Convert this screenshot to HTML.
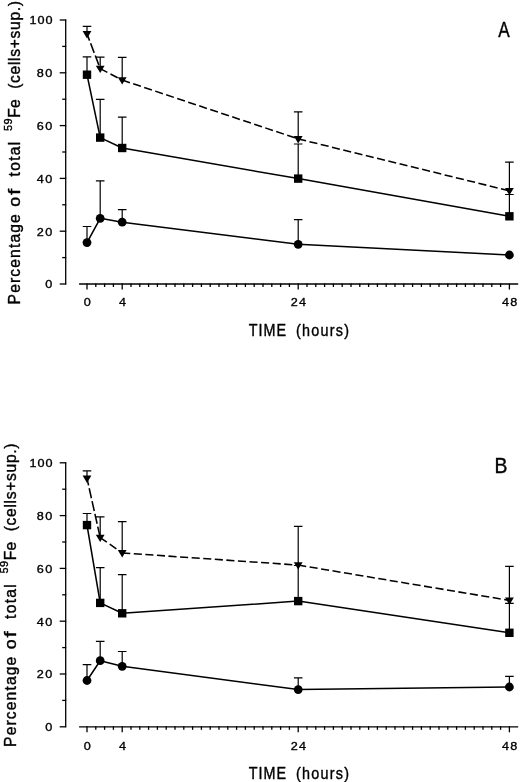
<!DOCTYPE html>
<html><head><meta charset="utf-8"><title>Fe-59 time course</title>
<style>
html,body{margin:0;padding:0;background:#fff}
svg{display:block;filter:grayscale(1)}
text{font-family:"Liberation Sans",sans-serif;fill:#000;stroke:#000;stroke-width:0.4px;stroke-linejoin:round}
.ax{stroke:#000;stroke-width:1.3;fill:none}
.eb{stroke:#000;stroke-width:1.2;fill:none}
.ln{stroke:#000;stroke-width:1.55;fill:none;stroke-linejoin:round}
.mk{fill:#000;stroke:none}
.tk{font-size:11.7px;letter-spacing:1.25px;stroke-width:0.34px}
.pl{font-size:21.5px;stroke-width:0.4px}
</style></head>
<body>
<svg width="520" height="782" viewBox="0 0 520 782">
<rect width="520" height="782" fill="#fff"/>
<path d="M65.7 19.50V284.50" class="ax"/>
<path d="M79.08 284.00H518.20" class="ax"/>
<path d="M59.7 284.00H66.2" class="ax"/>
<path d="M62.2 257.60H66.2" class="ax"/>
<path d="M59.7 231.20H66.2" class="ax"/>
<path d="M62.2 204.80H66.2" class="ax"/>
<path d="M59.7 178.40H66.2" class="ax"/>
<path d="M62.2 152.00H66.2" class="ax"/>
<path d="M59.7 125.60H66.2" class="ax"/>
<path d="M62.2 99.20H66.2" class="ax"/>
<path d="M59.7 72.80H66.2" class="ax"/>
<path d="M62.2 46.40H66.2" class="ax"/>
<path d="M59.7 20.00H66.2" class="ax"/>
<text transform="translate(53.5 288.40) scale(1.08 1)" class="tk" text-anchor="end">0</text>
<text transform="translate(53.5 235.60) scale(1.08 1)" class="tk" text-anchor="end">20</text>
<text transform="translate(53.5 182.80) scale(1.08 1)" class="tk" text-anchor="end">40</text>
<text transform="translate(53.5 130.00) scale(1.08 1)" class="tk" text-anchor="end">60</text>
<text transform="translate(53.5 77.20) scale(1.08 1)" class="tk" text-anchor="end">80</text>
<text transform="translate(53.4 24.40) scale(1.08 1)" class="tk" text-anchor="end" style="letter-spacing:0.9px">100</text>
<path d="M87.00 283.50v6.0" class="ax"/>
<path d="M95.80 283.50v3.5" class="ax"/>
<path d="M104.60 283.50v3.5" class="ax"/>
<path d="M113.40 283.50v3.5" class="ax"/>
<path d="M122.20 283.50v6.0" class="ax"/>
<path d="M131.00 283.50v3.5" class="ax"/>
<path d="M139.80 283.50v3.5" class="ax"/>
<path d="M148.60 283.50v3.5" class="ax"/>
<path d="M157.40 283.50v3.5" class="ax"/>
<path d="M166.20 283.50v3.5" class="ax"/>
<path d="M175.00 283.50v3.5" class="ax"/>
<path d="M183.80 283.50v3.5" class="ax"/>
<path d="M192.60 283.50v3.5" class="ax"/>
<path d="M201.40 283.50v3.5" class="ax"/>
<path d="M210.20 283.50v3.5" class="ax"/>
<path d="M219.00 283.50v3.5" class="ax"/>
<path d="M227.80 283.50v3.5" class="ax"/>
<path d="M236.60 283.50v3.5" class="ax"/>
<path d="M245.40 283.50v3.5" class="ax"/>
<path d="M254.20 283.50v3.5" class="ax"/>
<path d="M263.00 283.50v3.5" class="ax"/>
<path d="M271.80 283.50v3.5" class="ax"/>
<path d="M280.60 283.50v3.5" class="ax"/>
<path d="M289.40 283.50v3.5" class="ax"/>
<path d="M298.20 283.50v6.0" class="ax"/>
<path d="M307.00 283.50v3.5" class="ax"/>
<path d="M315.80 283.50v3.5" class="ax"/>
<path d="M324.60 283.50v3.5" class="ax"/>
<path d="M333.40 283.50v3.5" class="ax"/>
<path d="M342.20 283.50v3.5" class="ax"/>
<path d="M351.00 283.50v3.5" class="ax"/>
<path d="M359.80 283.50v3.5" class="ax"/>
<path d="M368.60 283.50v3.5" class="ax"/>
<path d="M377.40 283.50v3.5" class="ax"/>
<path d="M386.20 283.50v3.5" class="ax"/>
<path d="M395.00 283.50v3.5" class="ax"/>
<path d="M403.80 283.50v3.5" class="ax"/>
<path d="M412.60 283.50v3.5" class="ax"/>
<path d="M421.40 283.50v3.5" class="ax"/>
<path d="M430.20 283.50v3.5" class="ax"/>
<path d="M439.00 283.50v3.5" class="ax"/>
<path d="M447.80 283.50v3.5" class="ax"/>
<path d="M456.60 283.50v3.5" class="ax"/>
<path d="M465.40 283.50v3.5" class="ax"/>
<path d="M474.20 283.50v3.5" class="ax"/>
<path d="M483.00 283.50v3.5" class="ax"/>
<path d="M491.80 283.50v3.5" class="ax"/>
<path d="M500.60 283.50v3.5" class="ax"/>
<path d="M509.40 283.50v6.0" class="ax"/>
<text transform="translate(87.90 306.30) scale(1.08 1)" class="tk" text-anchor="middle">0</text>
<text transform="translate(123.10 306.30) scale(1.08 1)" class="tk" text-anchor="middle">4</text>
<text transform="translate(299.10 306.30) scale(1.08 1)" class="tk" text-anchor="middle">24</text>
<text transform="translate(510.30 306.30) scale(1.08 1)" class="tk" text-anchor="middle">48</text>
<path d="M87.00 33.90V26.40M82.70 26.40h8.6" class="eb"/>
<path d="M100.20 68.60V57.10M95.90 57.10h8.6" class="eb"/>
<path d="M122.20 80.10V57.40M117.90 57.40h8.6" class="eb"/>
<path d="M298.20 138.90V111.90M293.90 111.90h8.6" class="eb"/>
<path d="M509.40 190.80V162.10M505.10 162.10h8.6" class="eb"/>
<path d="M87.00 33.90L100.20 68.60" class="ln" style="stroke-dasharray:10.2 2.9;stroke-dashoffset:3.0"/>
<path d="M100.20 68.60L122.20 80.10" class="ln" style="stroke-dasharray:8.1 3.5;stroke-dashoffset:0"/>
<path d="M122.20 80.10L298.20 138.90" class="ln" style="stroke-dasharray:8.1 3.5;stroke-dashoffset:0"/>
<path d="M298.20 138.90L509.40 190.80" class="ln" style="stroke-dasharray:8.1 3.5;stroke-dashoffset:0"/>
<path d="M82.60 31.00h8.8L87.00 38.40z" class="mk"/>
<path d="M95.80 65.70h8.8L100.20 73.10z" class="mk"/>
<path d="M117.80 77.20h8.8L122.20 84.60z" class="mk"/>
<path d="M293.80 136.00h8.8L298.20 143.40z" class="mk"/>
<path d="M505.00 187.90h8.8L509.40 195.30z" class="mk"/>
<path d="M87.00 74.70V56.80M82.70 56.80h8.6" class="eb"/>
<path d="M100.20 137.60V99.30M95.90 99.30h8.6" class="eb"/>
<path d="M122.20 148.00V117.20M117.90 117.20h8.6" class="eb"/>
<path d="M298.20 178.60V144.00M293.90 144.00h8.6" class="eb"/>
<path d="M509.40 216.30V194.50M505.10 194.50h8.6" class="eb"/>
<path d="M87.00 74.70L100.20 137.60L122.20 148.00L298.20 178.60L509.40 216.30" class="ln"/>
<rect x="82.80" y="70.50" width="8.4" height="8.4" class="mk"/>
<rect x="96.00" y="133.40" width="8.4" height="8.4" class="mk"/>
<rect x="118.00" y="143.80" width="8.4" height="8.4" class="mk"/>
<rect x="294.00" y="174.40" width="8.4" height="8.4" class="mk"/>
<rect x="505.20" y="212.10" width="8.4" height="8.4" class="mk"/>
<path d="M87.00 242.60V226.50M82.70 226.50h8.6" class="eb"/>
<path d="M100.20 218.30V180.90M95.90 180.90h8.6" class="eb"/>
<path d="M122.20 222.20V209.60M117.90 209.60h8.6" class="eb"/>
<path d="M298.20 244.30V219.70M293.90 219.70h8.6" class="eb"/>
<path d="M87.00 242.60L100.20 218.30L122.20 222.20L298.20 244.30L509.40 255.00" class="ln"/>
<circle cx="87.00" cy="242.60" r="4.4" class="mk"/>
<circle cx="100.20" cy="218.30" r="4.4" class="mk"/>
<circle cx="122.20" cy="222.20" r="4.4" class="mk"/>
<circle cx="298.20" cy="244.30" r="4.4" class="mk"/>
<circle cx="509.40" cy="255.00" r="4.4" class="mk"/>
<text transform="translate(498.3 36.8) scale(0.8 1)" class="pl">A</text>
<text transform="translate(248.84 336.00) scale(0.87 1)" class="lb" style="font-size:16.5px;letter-spacing:1.105px">TIME</text>
<text transform="translate(295.93 336.00) scale(0.87 1)" class="lb" style="font-size:16.5px;letter-spacing:1.469px">(hours)</text>
<g transform="translate(19.7 304.00) rotate(-90)">
<text transform="translate(-0.43 0.00) scale(0.95 1)" class="lb" style="font-size:16.5px;letter-spacing:1.182px">Percentage</text>
<text transform="translate(127.61 0.00) scale(0.95 1)" class="lb" style="font-size:16.5px;letter-spacing:1.335px">total</text>
<text transform="translate(186.16 0.00) scale(0.95 1)" class="lb" style="font-size:16.5px;letter-spacing:0.3px">Fe</text>
<text transform="translate(215.15 0.00) scale(0.95 1)" class="lb" style="font-size:16.5px;letter-spacing:0.71px">(cells+sup.)</text>
<text transform="translate(97.35 0.00) scale(1.08 1)" class="lb" style="font-size:16.5px;letter-spacing:0px">o</text>
<text transform="translate(108.93 0.00) scale(1.35 1)" class="lb" style="font-size:16.5px;letter-spacing:0px">f</text>
<text transform="translate(173.02 -7.60) scale(0.95 1)" class="lb" style="font-size:11.5px;letter-spacing:0.525px">59</text>
</g>
<path d="M65.7 462.30V727.30" class="ax"/>
<path d="M79.08 726.80H518.20" class="ax"/>
<path d="M59.7 726.80H66.2" class="ax"/>
<path d="M62.2 700.40H66.2" class="ax"/>
<path d="M59.7 674.00H66.2" class="ax"/>
<path d="M62.2 647.60H66.2" class="ax"/>
<path d="M59.7 621.20H66.2" class="ax"/>
<path d="M62.2 594.80H66.2" class="ax"/>
<path d="M59.7 568.40H66.2" class="ax"/>
<path d="M62.2 542.00H66.2" class="ax"/>
<path d="M59.7 515.60H66.2" class="ax"/>
<path d="M62.2 489.20H66.2" class="ax"/>
<path d="M59.7 462.80H66.2" class="ax"/>
<text transform="translate(53.5 731.20) scale(1.08 1)" class="tk" text-anchor="end">0</text>
<text transform="translate(53.5 678.40) scale(1.08 1)" class="tk" text-anchor="end">20</text>
<text transform="translate(53.5 625.60) scale(1.08 1)" class="tk" text-anchor="end">40</text>
<text transform="translate(53.5 572.80) scale(1.08 1)" class="tk" text-anchor="end">60</text>
<text transform="translate(53.5 520.00) scale(1.08 1)" class="tk" text-anchor="end">80</text>
<text transform="translate(53.4 467.20) scale(1.08 1)" class="tk" text-anchor="end" style="letter-spacing:0.9px">100</text>
<path d="M87.00 726.30v6.0" class="ax"/>
<path d="M95.80 726.30v3.5" class="ax"/>
<path d="M104.60 726.30v3.5" class="ax"/>
<path d="M113.40 726.30v3.5" class="ax"/>
<path d="M122.20 726.30v6.0" class="ax"/>
<path d="M131.00 726.30v3.5" class="ax"/>
<path d="M139.80 726.30v3.5" class="ax"/>
<path d="M148.60 726.30v3.5" class="ax"/>
<path d="M157.40 726.30v3.5" class="ax"/>
<path d="M166.20 726.30v3.5" class="ax"/>
<path d="M175.00 726.30v3.5" class="ax"/>
<path d="M183.80 726.30v3.5" class="ax"/>
<path d="M192.60 726.30v3.5" class="ax"/>
<path d="M201.40 726.30v3.5" class="ax"/>
<path d="M210.20 726.30v3.5" class="ax"/>
<path d="M219.00 726.30v3.5" class="ax"/>
<path d="M227.80 726.30v3.5" class="ax"/>
<path d="M236.60 726.30v3.5" class="ax"/>
<path d="M245.40 726.30v3.5" class="ax"/>
<path d="M254.20 726.30v3.5" class="ax"/>
<path d="M263.00 726.30v3.5" class="ax"/>
<path d="M271.80 726.30v3.5" class="ax"/>
<path d="M280.60 726.30v3.5" class="ax"/>
<path d="M289.40 726.30v3.5" class="ax"/>
<path d="M298.20 726.30v6.0" class="ax"/>
<path d="M307.00 726.30v3.5" class="ax"/>
<path d="M315.80 726.30v3.5" class="ax"/>
<path d="M324.60 726.30v3.5" class="ax"/>
<path d="M333.40 726.30v3.5" class="ax"/>
<path d="M342.20 726.30v3.5" class="ax"/>
<path d="M351.00 726.30v3.5" class="ax"/>
<path d="M359.80 726.30v3.5" class="ax"/>
<path d="M368.60 726.30v3.5" class="ax"/>
<path d="M377.40 726.30v3.5" class="ax"/>
<path d="M386.20 726.30v3.5" class="ax"/>
<path d="M395.00 726.30v3.5" class="ax"/>
<path d="M403.80 726.30v3.5" class="ax"/>
<path d="M412.60 726.30v3.5" class="ax"/>
<path d="M421.40 726.30v3.5" class="ax"/>
<path d="M430.20 726.30v3.5" class="ax"/>
<path d="M439.00 726.30v3.5" class="ax"/>
<path d="M447.80 726.30v3.5" class="ax"/>
<path d="M456.60 726.30v3.5" class="ax"/>
<path d="M465.40 726.30v3.5" class="ax"/>
<path d="M474.20 726.30v3.5" class="ax"/>
<path d="M483.00 726.30v3.5" class="ax"/>
<path d="M491.80 726.30v3.5" class="ax"/>
<path d="M500.60 726.30v3.5" class="ax"/>
<path d="M509.40 726.30v6.0" class="ax"/>
<text transform="translate(87.90 750.00) scale(1.08 1)" class="tk" text-anchor="middle">0</text>
<text transform="translate(123.10 750.00) scale(1.08 1)" class="tk" text-anchor="middle">4</text>
<text transform="translate(299.10 750.00) scale(1.08 1)" class="tk" text-anchor="middle">24</text>
<text transform="translate(510.30 750.00) scale(1.08 1)" class="tk" text-anchor="middle">48</text>
<path d="M87.00 478.40V470.90M82.70 470.90h8.6" class="eb"/>
<path d="M100.20 537.60V516.90M95.90 516.90h8.6" class="eb"/>
<path d="M122.20 552.90V521.60M117.90 521.60h8.6" class="eb"/>
<path d="M298.20 565.10V526.40M293.90 526.40h8.6" class="eb"/>
<path d="M509.40 600.40V566.30M505.10 566.30h8.6" class="eb"/>
<path d="M87.00 478.40L100.20 537.60" class="ln" style="stroke-dasharray:10.2 2.9;stroke-dashoffset:3.0"/>
<path d="M100.20 537.60L122.20 552.90" class="ln" style="stroke-dasharray:8.1 3.5;stroke-dashoffset:0"/>
<path d="M122.20 552.90L298.20 565.10" class="ln" style="stroke-dasharray:8.1 3.5;stroke-dashoffset:0"/>
<path d="M298.20 565.10L509.40 600.40" class="ln" style="stroke-dasharray:8.1 3.5;stroke-dashoffset:0"/>
<path d="M82.60 475.50h8.8L87.00 482.90z" class="mk"/>
<path d="M95.80 534.70h8.8L100.20 542.10z" class="mk"/>
<path d="M117.80 550.00h8.8L122.20 557.40z" class="mk"/>
<path d="M293.80 562.20h8.8L298.20 569.60z" class="mk"/>
<path d="M505.00 597.50h8.8L509.40 604.90z" class="mk"/>
<path d="M87.00 525.10V513.50M82.70 513.50h8.6" class="eb"/>
<path d="M100.20 602.90V567.60M95.90 567.60h8.6" class="eb"/>
<path d="M122.20 613.30V574.70M117.90 574.70h8.6" class="eb"/>
<path d="M298.20 601.10V565.50M293.90 565.50h8.6" class="eb"/>
<path d="M509.40 632.80V603.30M505.10 603.30h8.6" class="eb"/>
<path d="M87.00 525.10L100.20 602.90L122.20 613.30L298.20 601.10L509.40 632.80" class="ln"/>
<rect x="82.80" y="520.90" width="8.4" height="8.4" class="mk"/>
<rect x="96.00" y="598.70" width="8.4" height="8.4" class="mk"/>
<rect x="118.00" y="609.10" width="8.4" height="8.4" class="mk"/>
<rect x="294.00" y="596.90" width="8.4" height="8.4" class="mk"/>
<rect x="505.20" y="628.60" width="8.4" height="8.4" class="mk"/>
<path d="M87.00 680.50V664.60M82.70 664.60h8.6" class="eb"/>
<path d="M100.20 660.70V641.40M95.90 641.40h8.6" class="eb"/>
<path d="M122.20 666.30V651.50M117.90 651.50h8.6" class="eb"/>
<path d="M298.20 689.60V677.80M293.90 677.80h8.6" class="eb"/>
<path d="M509.40 687.00V676.40M505.10 676.40h8.6" class="eb"/>
<path d="M87.00 680.50L100.20 660.70L122.20 666.30L298.20 689.60L509.40 687.00" class="ln"/>
<circle cx="87.00" cy="680.50" r="4.4" class="mk"/>
<circle cx="100.20" cy="660.70" r="4.4" class="mk"/>
<circle cx="122.20" cy="666.30" r="4.4" class="mk"/>
<circle cx="298.20" cy="689.60" r="4.4" class="mk"/>
<circle cx="509.40" cy="687.00" r="4.4" class="mk"/>
<text transform="translate(494.6 472.5) scale(0.9 1)" class="pl">B</text>
<text transform="translate(248.84 779.00) scale(0.87 1)" class="lb" style="font-size:16.5px;letter-spacing:1.105px">TIME</text>
<text transform="translate(295.93 779.00) scale(0.87 1)" class="lb" style="font-size:16.5px;letter-spacing:1.469px">(hours)</text>
<g transform="translate(15.6 746.50) rotate(-90)">
<text transform="translate(-0.43 0.00) scale(0.95 1)" class="lb" style="font-size:16.5px;letter-spacing:1.182px">Percentage</text>
<text transform="translate(127.61 0.00) scale(0.95 1)" class="lb" style="font-size:16.5px;letter-spacing:1.335px">total</text>
<text transform="translate(186.16 0.00) scale(0.95 1)" class="lb" style="font-size:16.5px;letter-spacing:0.3px">Fe</text>
<text transform="translate(215.15 0.00) scale(0.95 1)" class="lb" style="font-size:16.5px;letter-spacing:0.71px">(cells+sup.)</text>
<text transform="translate(97.35 0.00) scale(1.08 1)" class="lb" style="font-size:16.5px;letter-spacing:0px">o</text>
<text transform="translate(108.93 0.00) scale(1.35 1)" class="lb" style="font-size:16.5px;letter-spacing:0px">f</text>
<text transform="translate(173.02 -7.60) scale(0.95 1)" class="lb" style="font-size:11.5px;letter-spacing:0.525px">59</text>
</g>
</svg>
</body></html>
